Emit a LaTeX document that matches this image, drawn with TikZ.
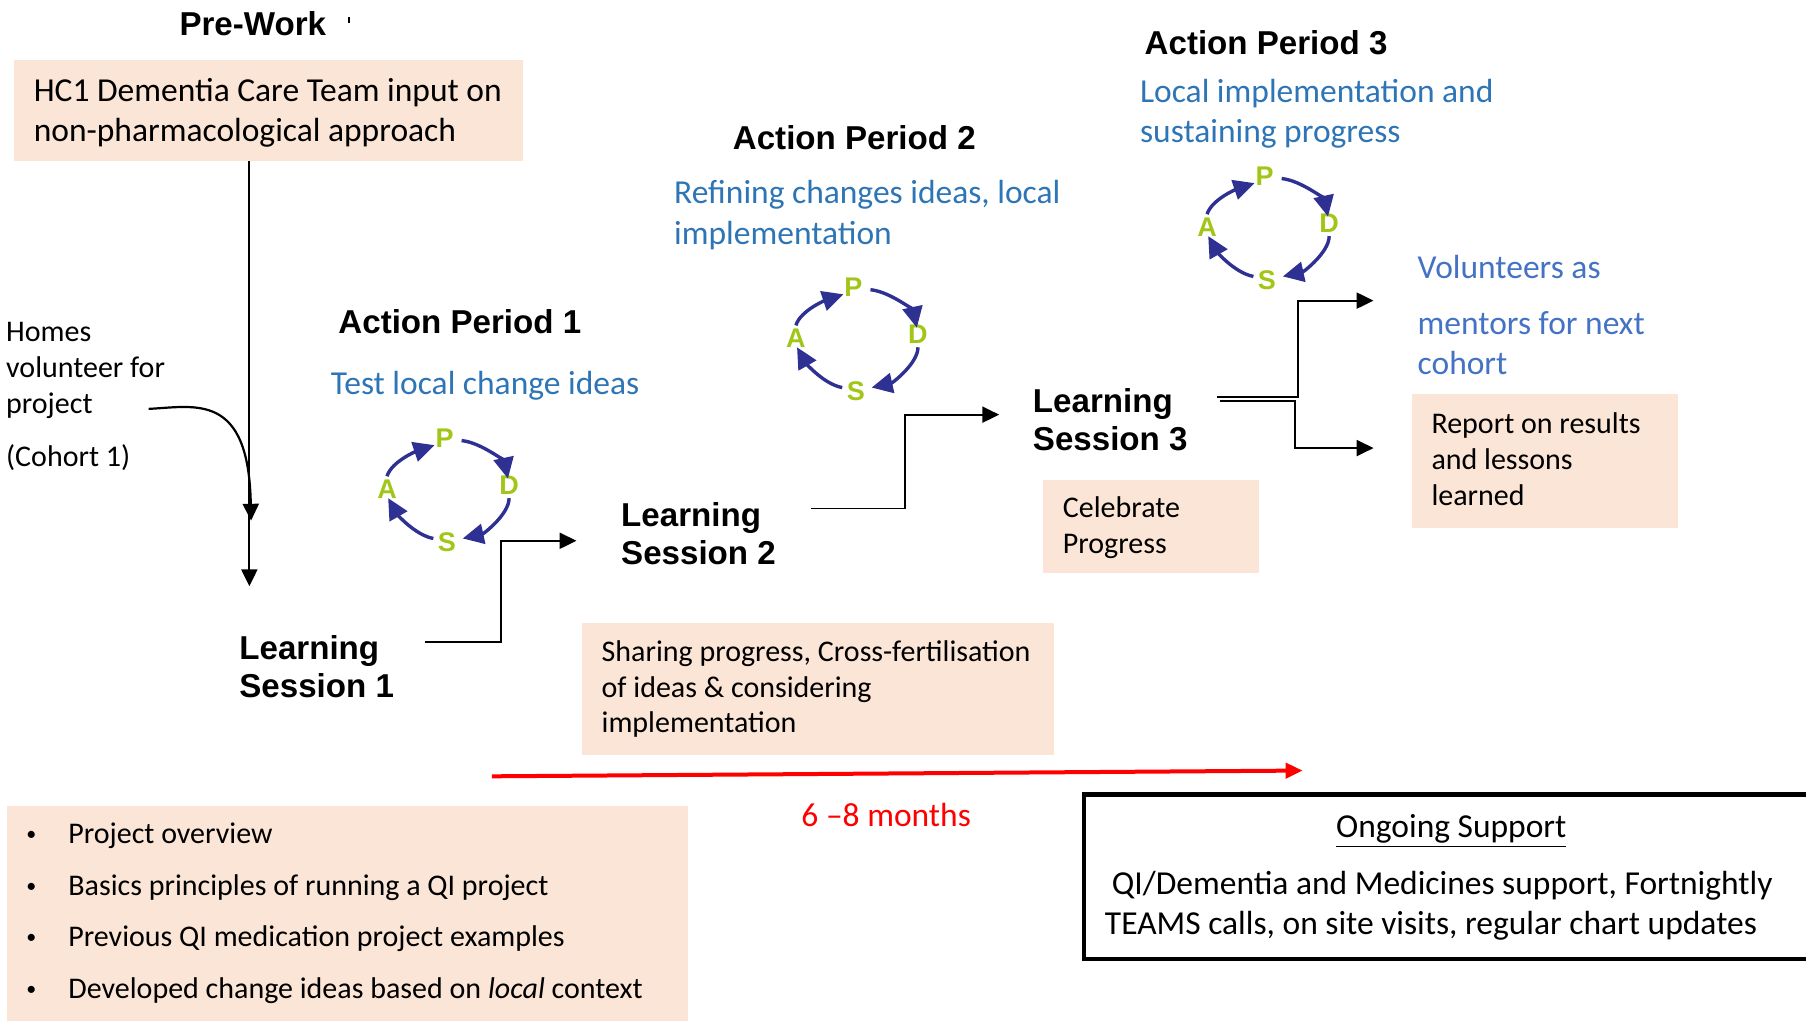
\documentclass[tikz,border=0pt]{standalone}
\usepackage{fontspec}
\setmainfont{Carlito}
\newfontfamily\headfont{Liberation Sans}[BoldFont={Liberation Sans Bold}]
\usetikzlibrary{arrows.meta}
\def\uu{0.5759pt}
\definecolor{peachc}{HTML}{FBE5D6}
\definecolor{bluea}{HTML}{2E75B6}
\definecolor{blueb}{HTML}{4472C4}
\definecolor{navyc}{HTML}{2E3192}
\definecolor{greenc}{HTML}{A2C617}
\newcommand\bigtxt{\fontsize{16.75pt}{20.1pt}\selectfont}
\newcommand\smalltxt{\fontsize{15pt}{17.9pt}\selectfont}
\newcommand\headtxt{\headfont\bfseries\fontsize{16.55pt}{19pt}\selectfont}
\newcommand\bul{\makebox[18.43pt][l]{\hspace*{-2.5pt}\raisebox{1.5pt}{\fontsize{10pt}{10pt}\selectfont•}}}
\tikzset{
  peach/.style={fill=peachc,anchor=north west,inner ysep=0pt,inner xsep=17*\uu,align=flush left},
  txt/.style={anchor=base west,inner sep=0pt,align=left},
  head/.style={txt,font=\headtxt},
  blue1/.style={txt,font=\bigtxt,text=bluea},
  blue2/.style={txt,font=\bigtxt,text=blueb},
  conn/.style={draw=black,line width=0.9pt,-{Triangle[length=8.4pt,width=8pt]}},
  cyc/.style={draw=navyc,line width=1.7pt,-{Triangle[length=10.5pt,width=10pt]}},
  letter/.style={text=greenc,inner sep=1.5pt,font=\headfont\bfseries\fontsize{13.5pt}{14pt}\selectfont},
}
\newcommand\pdsa[3]{%
  \node[letter] (#1P) at (#2-2,#3-44) {P};
  \node[letter] (#1D) at (#2+54,#3-3) {D};
  \node[letter] (#1S) at (#2,#3+46) {S};
  \node[letter] (#1A) at (#2-52,#3) {A};
  \draw[cyc] ([shift={(4,2)}]#1P.east) .. controls +(18,2) and +(-3,-14) .. ([shift={(-1,5)}]#1D.north);
  \draw[cyc] (#1D.south) .. controls +(0,14) and +(18,-4) .. ([shift={(3,-3)}]#1S.east);
  \draw[cyc] ([shift={(-1,-3)}]#1S.west) .. controls +(-16,-3) and +(8,14) .. ([shift={(1,-3)}]#1A.south);
  \draw[cyc] (#1A.north) .. controls +(4,-13) and +(-15,5) .. ([shift={(2,6)}]#1P.west);
}
\begin{document}
\begin{tikzpicture}[x=0.5759pt,y=-0.5759pt]
\useasboundingbox (0,0) rectangle (1568,886);

% titles and text
\node[head] (pre) at (155.5,31) {Pre-Work};
\draw[line width=0.8pt] (303,15) -- (303,20);
\node[peach,font=\bigtxt,minimum width=442*\uu,minimum height=87*\uu,text width=408*\uu] (hc1) at (12,52)
  {\rule{0pt}{14.2pt}HC1 Dementia Care Team input on\\non-pharmacological approach};
\node[txt,font=\smalltxt] (homes) at (5,405) {Homes\\volunteer for\\project\\[8.8pt](Cohort 1)};

\node[head] (ap1) at (293.5,289.3) {Action Period 1};
\node[blue1] (ap1t) at (287,342.5) {Test local change ideas};
\node[head] (ap2) at (636,130) {Action Period 2};
\node[blue1] (ap2t) at (585,212) {Refining changes ideas, local\\implementation};
\node[head] (ap3) at (993.5,47) {Action Period 3};
\node[blue1] (ap3t) at (989.5,124) {Local implementation and\\sustaining progress};
\node[blue2] (vol) at (1230.5,325) {Volunteers as\\[7.6pt]mentors for next\\cohort};

\node[head] (ls1) at (207.5,606) {Learning\\Session 1};
\node[head] (ls2) at (539,490) {Learning\\Session 2};
\node[head] (ls3) at (896.5,391) {Learning\\Session 3};

% boxes
\node[peach,font=\smalltxt,minimum width=410*\uu,minimum height=115*\uu,text width=376*\uu] (sharing) at (505,540.5)
  {Sharing progress, Cross-fertilisation\\of ideas \& considering\\implementation};
\node[peach,font=\smalltxt,minimum width=187*\uu,minimum height=81*\uu,text width=153*\uu] (celebrate) at (905.5,416)
  {\rule{0pt}{11.8pt}Celebrate\\Progress};
\node[peach,font=\smalltxt,minimum width=231*\uu,minimum height=116*\uu,text width=197*\uu] (report) at (1225.5,342)
  {Report on results\\and lessons\\learned\rule[-2.3pt]{0pt}{0pt}};
\node[peach,font=\smalltxt,minimum width=591*\uu,minimum height=187*\uu,text width=549*\uu,inner xsep=21*\uu] (bullets) at (6,699)
  {\bul Project overview\\[8pt]
   \bul Basics principles of running a QI project\\[8pt]
   \bul Previous QI medication project examples\\[8pt]
   \bul Developed change ideas based on \textit{local} context};

% ongoing support
\node[anchor=north west,inner sep=0pt,minimum width=627*\uu,minimum height=142*\uu] (ongoing) at (941,690) {};
\draw[line width=2.3pt] (ongoing.north east) -- (ongoing.north west) -- (ongoing.south west) -- (ongoing.south east);
\node[txt,anchor=base,font=\bigtxt] (ongt) at (1260,727) {\underline{Ongoing Support}};
\node[txt,font=\bigtxt] (ongb) at (959,811.5) {\hspace*{3.46pt}QI/Dementia and Medicines support, Fortnightly\\TEAMS calls, on site visits, regular chart updates};

% time bar
\coordinate (tstart) at (427,674);
\coordinate (tend) at (1131,669);
\draw[draw=red,line width=2pt,-{Triangle[length=8.5pt,width=7.5pt]}] (tstart) -- (tend);
\node[txt,font=\bigtxt,text=red] (months) at (695.5,717.5) {6 –8 months};

% connectors
\coordinate (ls1in) at (216.5,509);
\draw[conn] (hc1.south -| ls1in) -- (ls1in);
\coordinate (homesout) at (129,355);
\coordinate (merge) at (218,452);
\draw[conn,line width=1.1pt] (homesout) .. controls (170,353) and (216,340) .. (merge);
\coordinate (ls1out) at (369,557.5);
\coordinate (ls2in) at (500.5,469.5);
\draw[conn] (ls1out) -- (435,557.5) |- (ls2in);
\coordinate (ls2out) at (704,441.5);
\coordinate (ls3in) at (867.5,360);
\draw[conn] (ls2out) -- (786,441.5) |- (ls3in);
\coordinate (ls3outa) at (1057,345);
\coordinate (ls3outb) at (1059,348);
\coordinate (vola) at (1192.5,261);
\coordinate (repa) at (1192.5,389);
\draw[conn] (ls3outa) -- (1127,345) |- (vola);
\draw[conn] (ls3outb) -- (1124,348) |- (repa);

% PDSA cycles
\pdsa{a}{388}{424.5}
\pdsa{b}{743}{293.5}
\pdsa{c}{1100}{197}
\end{tikzpicture}
\end{document}
